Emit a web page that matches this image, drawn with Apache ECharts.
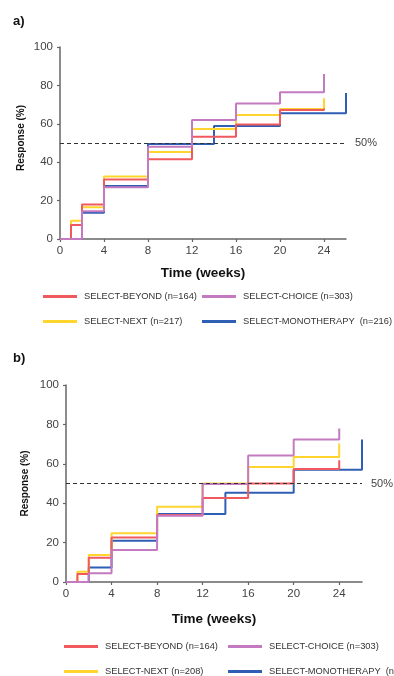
<!DOCTYPE html>
<html>
<head>
<meta charset="utf-8">
<script src="https://cdn.jsdelivr.net/npm/echarts@6/dist/echarts.min.js"></script>
<style>
html,body{margin:0;padding:0;background:#fff;}
#c{width:394px;height:676px;}
</style>
</head>
<body>
<div id="c"></div>
<script>
// ---- data ----
var xTicks = [0, 4, 8, 12, 16, 20, 24];
var yTicks = [0, 20, 40, 60, 80, 100];

// Panel a
var namesA = ['SELECT-BEYOND (n=164)', 'SELECT-CHOICE (n=303)', 'SELECT-NEXT (n=217)', 'SELECT-MONOTHERAPY  (n=216)'];
var beyondA_t = [0, 1, 2, 4, 8, 12, 16, 20, 24];
var beyondA_v = [0, 7.3, 18, 31, 41.5, 53.3, 59.7, 67.2, 68];
var choiceA_t = [0, 2, 4, 8, 12, 16, 20, 24];
var choiceA_v = [0, 14.5, 27, 48, 62, 70.6, 76.4, 86];
var nextA_t = [0, 1, 2, 4, 8, 12, 16, 20, 24];
var nextA_v = [0, 9.5, 16.5, 32.5, 45.3, 57.3, 64.6, 67.7, 73.3];
var monoA_t = [0, 2, 4, 8, 14, 20, 26];
var monoA_v = [0, 13.7, 27.6, 49.5, 58.9, 65.5, 76];

// Panel b
var namesB = ['SELECT-BEYOND (n=164)', 'SELECT-CHOICE (n=303)', 'SELECT-NEXT (n=208)', 'SELECT-MONOTHERAPY  (n=216)'];
var beyondB_t = [0, 1, 2, 4, 8, 12, 16, 20, 24];
var beyondB_v = [0, 4, 12.3, 22.6, 34, 42.7, 50, 57.4, 61.8];
var choiceB_t = [0, 2, 4, 8, 12, 16, 20, 24];
var choiceB_v = [0, 4.4, 16.2, 33.6, 49.7, 64.2, 72.3, 77.9];
var nextB_t = [0, 1, 2, 4, 8, 12, 16, 20, 24];
var nextB_v = [0, 5.2, 13.7, 24.8, 38.2, 50, 58.4, 63.5, 70.3];
var monoB_t = [0, 2, 4, 8, 14, 20, 26];
var monoB_v = [0, 7.3, 21, 34.5, 45.3, 57, 72.3];

var refLine = 50;

// ---- styling ----
var FONT = '"Liberation Sans", Arial, sans-serif';
var colors = {beyond: '#f05a5f', choice: '#c47ac0', next: '#ffd52e', mono: '#2f5fb5'};

function zip(t, v) { return t.map(function (x, i) { return [x, v[i]]; }); }

function mkX(idx, gap) {
  return {
    type: 'value', gridIndex: idx, min: 0, max: 26, interval: 4,
    name: 'Time (weeks)', nameLocation: 'middle', nameGap: gap, nameMoveOverlap: false,
    nameTextStyle: {fontFamily: FONT, fontWeight: 'bold', fontSize: 13.5, color: '#111'},
    axisLine: {lineStyle: {color: '#666', width: 1.5}},
    axisTick: {show: true, length: 3, lineStyle: {color: '#666', width: 1.2}, customValues: xTicks},
    axisLabel: {fontFamily: FONT, fontSize: 11.5, color: '#444', margin: 6, customValues: xTicks},
    splitLine: {show: false}
  };
}
function mkY(idx, gap, pad) {
  return {
    type: 'value', gridIndex: idx, min: 0, max: 100, interval: 20,
    name: 'Response (%)', nameLocation: 'middle', nameGap: gap, nameRotate: 90, nameMoveOverlap: false,
    nameTextStyle: {fontFamily: FONT, fontWeight: 'bold', fontSize: 10, color: '#111', padding: pad},
    axisLine: {show: true, lineStyle: {color: '#666', width: 1.5}},
    axisTick: {show: true, length: 3, lineStyle: {color: '#666', width: 1.2}},
    axisLabel: {fontFamily: FONT, fontSize: 11.5, color: '#444', margin: 7,
      formatter: function (v) { return yTicks.indexOf(v) >= 0 ? String(v) : ''; }},
    splitLine: {show: false}
  };
}
function mkS(name, color, data, idx, withRef) {
  var s = {
    name: name, type: 'line', step: 'end', xAxisIndex: idx, yAxisIndex: idx,
    data: data, showSymbol: false, symbol: 'none', color: color,
    lineStyle: {color: color, width: 2}, animation: false
  };
  if (withRef) {
    s.markLine = {
      silent: true, symbol: 'none', animation: false, precision: 0,
      lineStyle: {color: '#333', type: [4, 3], width: 1.2},
      label: {show: true, position: 'end', distance: 9, formatter: '50%',
        fontFamily: FONT, fontSize: 11, color: '#444'},
      data: [{yAxis: refLine}]
    };
  }
  return s;
}
function mkLeg(name, left, top) {
  return {
    data: [name], left: left, top: top, orient: 'horizontal',
    icon: 'rect', itemWidth: 34, itemHeight: 3, itemGap: 0,
    textStyle: {fontFamily: FONT, fontSize: 9.3, color: '#333', padding: [0, 0, 0, 2]},
    padding: 0, selectedMode: false
  };
}

var option = {
  backgroundColor: '#fff',
  animation: false,
  title: [
    {text: 'a)', left: 8, top: 10, textStyle: {fontFamily: FONT, fontWeight: 'bold', fontSize: 13, color: '#111'}},
    {text: 'b)', left: 8, top: 347, textStyle: {fontFamily: FONT, fontWeight: 'bold', fontSize: 13, color: '#111'}}
  ],
  grid: [
    {left: 60, top: 47, width: 286, height: 192},
    {left: 66, top: 385, width: 296, height: 197}
  ],
  xAxis: [mkX(0, 27), mkX(1, 30)],
  yAxis: [mkY(0, 34, [0, 0, 0, 10]), mkY(1, 36, 0)],
  legend: [
    mkLeg(namesA[0], 43, 292),
    mkLeg(namesA[1], 202, 292),
    mkLeg(namesA[2], 43, 317),
    mkLeg(namesA[3], 202, 317),
    mkLeg(namesB[0], 64, 642),
    mkLeg(namesB[1], 228, 642),
    mkLeg(namesB[2], 64, 667),
    mkLeg(namesB[3], 228, 667)
  ],
  series: [
    mkS(namesA[3], colors.mono, zip(monoA_t, monoA_v), 0, true),
    mkS(namesA[2], colors.next, zip(nextA_t, nextA_v), 0, false),
    mkS(namesA[0], colors.beyond, zip(beyondA_t, beyondA_v), 0, false),
    mkS(namesA[1], colors.choice, zip(choiceA_t, choiceA_v), 0, false),
    mkS(namesB[3], colors.mono, zip(monoB_t, monoB_v), 1, true),
    mkS(namesB[2], colors.next, zip(nextB_t, nextB_v), 1, false),
    mkS(namesB[0], colors.beyond, zip(beyondB_t, beyondB_v), 1, false),
    mkS(namesB[1], colors.choice, zip(choiceB_t, choiceB_v), 1, false)
  ]
};

var chart = echarts.init(document.getElementById('c'), null, {renderer: 'canvas'});
chart.setOption(option);
</script>
</body>
</html>
